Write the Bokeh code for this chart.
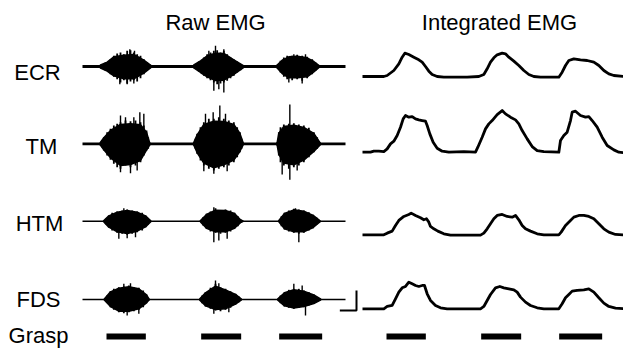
from bokeh.plotting import figure
from bokeh.models import Range1d
from bokeh.embed import file_html
from bokeh.resources import INLINE
from bokeh.core.properties import value

# ---------------- data ----------------
muscles = ["ECR", "TM", "HTM", "FDS"]
record_ms = 7890
grasp_on_ms = [720, 3560, 5900]
grasp_off_ms = [1900, 4760, 7190]
scalebar_ms = 500
scalebar_uv = 600

# Raw EMG: outer extremes of each burst (time ms, max uV, min uV)
ecr_raw_t = [[540, 690, 840, 940, 1040, 1140, 1240, 1340, 1440, 1540, 1640, 1740, 1840, 1940, 2040],
             [3340, 3490, 3640, 3740, 3840, 3940, 4040, 4140, 4240, 4340, 4440, 4540, 4640, 4740, 4840],
             [5840, 5940, 6040, 6140, 6290, 6440, 6590, 6740, 6890, 6990, 7090]]
ecr_raw_hi = [[50, 120, 220, 320, 390, 420, 370, 470, 490, 420, 370, 320, 220, 120, 50],
              [50, 150, 270, 370, 420, 470, 490, 420, 470, 370, 270, 220, 150, 70, 20],
              [50, 170, 270, 320, 320, 350, 320, 290, 220, 120, 40]]
ecr_raw_lo = [[-50, -130, -230, -310, -380, -480, -410, -510, -450, -410, -450, -350, -230, -110, -50],
              [-50, -150, -280, -350, -410, -480, -530, -510, -480, -430, -350, -280, -180, -110, -30],
              [-50, -180, -310, -380, -410, -380, -430, -350, -230, -130, -40]]
# dense core of each burst
ecr_core_t = [[540, 740, 940, 1240, 1540, 1840, 2040],
              [3340, 3540, 3740, 3990, 4240, 4540, 4840],
              [5840, 5990, 6190, 6440, 6740, 6940, 7090]]
ecr_core_hi = [[45, 130, 290, 340, 360, 190, 45],
               [45, 170, 320, 400, 390, 200, 20],
               [45, 190, 290, 310, 260, 150, 35]]
ecr_core_lo = [[-45, -140, -280, -370, -370, -200, -45],
               [-45, -180, -310, -420, -410, -240, -25],
               [-45, -210, -340, -340, -310, -160, -35]]
ecr_spike_t = [1120, 1340, 1420, 1540, 1560, 3790, 3940, 3990, 4090, 4240, 4240, 6190, 6340, 6590, 6690]
ecr_spike_uv = [-530, -530, 520, -510, 470, 470, -730, 620, -680, 520, -780, -480, 370, -510, 370]

tm_raw_t = [[540, 590, 640, 740, 840, 940, 1040, 1140, 1290, 1440, 1590, 1740, 1840, 1920, 1970, 2010],
            [3340, 3390, 3440, 3540, 3640, 3790, 3940, 4090, 4240, 4390, 4540, 4640, 4720, 4770, 4820],
            [5840, 5890, 5940, 6040, 6190, 6340, 6490, 6640, 6790, 6940, 7040, 7120]]
tm_raw_hi = [[50, 100, 200, 350, 450, 550, 600, 650, 700, 680, 700, 650, 550, 400, 200, 50],
             [50, 150, 300, 500, 650, 750, 750, 800, 750, 700, 650, 500, 350, 150, 30],
             [50, 350, 500, 580, 600, 620, 580, 550, 480, 350, 200, 50]]
tm_raw_lo = [[-50, -100, -200, -350, -480, -600, -700, -750, -650, -700, -650, -550, -350, -200, -150, -50],
             [-50, -150, -300, -500, -650, -750, -800, -750, -700, -650, -550, -400, -250, -150, -30],
             [-50, -350, -550, -650, -750, -700, -650, -550, -400, -250, -150, -50]]
tm_core_t = [[540, 640, 840, 1140, 1440, 1740, 1920, 2010],
             [3340, 3440, 3640, 3940, 4240, 4540, 4720, 4820],
             [5840, 5890, 6040, 6340, 6640, 6940, 7120]]
tm_core_hi = [[45, 180, 400, 580, 600, 570, 350, 45],
              [45, 270, 580, 680, 670, 580, 320, 30],
              [45, 320, 520, 560, 490, 310, 45]]
tm_core_lo = [[-45, -180, -420, -650, -620, -500, -190, -45],
              [-45, -270, -580, -720, -630, -490, -230, -30],
              [-45, -320, -580, -630, -490, -230, -45]]
tm_spike_t = [1140, 1290, 1540, 1720, 1840, 1140, 1440, 1640, 3690, 3920, 4120, 4290, 3640, 3940, 4340,
              6220, 5990, 6220, 6440]
tm_spike_uv = [850, 800, 800, 950, 900, -850, -880, -800, 900, 950, 1150, 900, -820, -900, -820,
               1180, -920, -1080, -800]

htm_raw_t = [[640, 720, 790, 890, 1040, 1190, 1340, 1490, 1640, 1790, 1890, 1960, 2040],
             [3540, 3620, 3720, 3840, 3990, 4140, 4290, 4440, 4560, 4660, 4740, 4810],
             [5890, 5970, 6060, 6190, 6340, 6490, 6640, 6790, 6920, 7020, 7120]]
htm_raw_hi = [[20, 90, 170, 250, 290, 320, 350, 320, 290, 250, 170, 90, 20],
              [20, 120, 220, 290, 390, 320, 350, 320, 250, 150, 50, 10],
              [20, 150, 250, 320, 370, 350, 320, 270, 190, 110, 20]]
htm_raw_lo = [[-20, -110, -190, -280, -350, -380, -410, -380, -330, -280, -180, -110, -30],
              [-20, -130, -230, -310, -350, -380, -350, -310, -230, -150, -50, -10],
              [-20, -150, -250, -310, -350, -380, -350, -280, -210, -110, -30]]
htm_core_t = [[640, 790, 1040, 1340, 1640, 1890, 2040],
              [3540, 3720, 3990, 4290, 4560, 4740, 4810],
              [5890, 6060, 6340, 6640, 6920, 7120]]
htm_core_hi = [[20, 160, 270, 320, 270, 160, 20],
               [20, 200, 330, 320, 230, 45, 10],
               [20, 230, 340, 300, 175, 20]]
htm_core_lo = [[-20, -180, -320, -370, -300, -170, -25],
               [-20, -210, -320, -320, -210, -45, -10],
               [-20, -230, -320, -320, -190, -25]]
htm_spike_t = [1090, 1340, 1590, 1240, 3940, 4090, 4340, 3940, 6490, 6390]
htm_spike_uv = [-530, -510, -480, 390, -630, -580, -530, 420, -630, 390]

fds_raw_t = [[660, 740, 840, 940, 1090, 1240, 1390, 1540, 1690, 1820, 1920, 1990],
             [3520, 3590, 3690, 3840, 3990, 4140, 4290, 4440, 4590, 4690, 4760],
             [5860, 5940, 6060, 6190, 6340, 6490, 6640, 6790, 6940, 7060, 7140]]
fds_raw_hi = [[20, 120, 250, 320, 370, 390, 420, 370, 350, 270, 150, 30],
              [20, 120, 220, 350, 470, 370, 320, 250, 170, 90, 20],
              [20, 120, 220, 290, 320, 320, 270, 220, 150, 70, 20]]
fds_raw_lo = [[-20, -100, -230, -310, -380, -410, -380, -350, -310, -230, -110, -30],
              [-20, -110, -210, -280, -330, -350, -310, -250, -150, -80, -20],
              [-20, -110, -210, -250, -280, -250, -230, -180, -130, -60, -20]]
fds_core_t = [[660, 840, 1090, 1390, 1690, 1920, 1990],
              [3520, 3690, 3990, 4290, 4590, 4760],
              [5860, 6060, 6340, 6640, 6940, 7140]]
fds_core_hi = [[20, 230, 340, 380, 320, 140, 25],
               [20, 200, 400, 290, 155, 20],
               [20, 200, 290, 250, 135, 20]]
fds_core_lo = [[-20, -210, -350, -350, -280, -100, -25],
               [-20, -190, -300, -280, -140, -20],
               [-20, -190, -255, -210, -120, -20]]
fds_spike_t = [1240, 1440, 1340, 1690, 3990, 4090, 3940, 4390, 6340, 6590, 6690]
fds_spike_uv = [470, 490, -480, -430, 570, 490, -430, -380, 470, 420, -480]

# Integrated EMG: time (ms), value (a.u.)
ecr_int_t = [0, 640, 740, 940, 1090, 1190, 1270, 1390, 1540, 1690, 1790, 1890, 1990, 2090, 2240, 2440,
             3140, 3490, 3640, 3740, 3840, 3940, 4040, 4190, 4290, 4390, 4540, 4690, 4840, 4990, 5140,
             5340, 5890, 5990, 6090, 6190, 6340, 6540, 6740, 6940, 7090, 7240, 7390, 7540, 7830, 7890]
ecr_int_v = [0, 0, 30, 180, 380, 580, 700, 660, 580, 500, 430, 300, 160, 60, 0, -20,
             -20, 0, 60, 230, 430, 560, 650, 700, 680, 580, 460, 330, 180, 60, 0,
             -20, -20, 130, 330, 480, 530, 500, 480, 430, 330, 180, 80, 30, 0, 0]
tm_int_t = [0, 240, 340, 490, 640, 740, 840, 940, 1040, 1140, 1220, 1290, 1390, 1490, 1590, 1690, 1790,
            1890, 1940, 2020, 2120, 2240, 2390, 2590, 3040, 3390, 3460, 3590, 3690, 3790, 3890, 4040,
            4190, 4290, 4440, 4590, 4690, 4790, 4940, 5090, 5240, 5440, 5890, 5940, 6040, 6140, 6240,
            6290, 6390, 6540, 6690, 6790, 6890, 7040, 7190, 7340, 7540, 7690, 7890]
tm_int_v = [0, 0, 30, 30, 20, 100, 250, 330, 500, 750, 1000, 1100, 1050, 1070, 1000, 970, 950,
            930, 800, 550, 300, 120, 30, 0, 20, 0, 150, 450, 700, 850, 950, 1130,
            1250, 1150, 1050, 970, 850, 650, 400, 170, 50, 20, 0, 350, 500, 600, 950,
            1200, 1230, 1100, 1050, 1070, 950, 750, 450, 200, 70, 0, -20]
htm_int_t = [0, 640, 740, 890, 990, 1090, 1240, 1390, 1460, 1590, 1740, 1840, 1920, 1990, 2040, 2140,
             2260, 2440, 2640, 3540, 3640, 3740, 3840, 3940, 4040, 4190, 4340, 4490, 4590, 4690, 4790,
             4890, 5040, 5240, 5440, 5890, 5960, 6090, 6240, 6340, 6490, 6640, 6790, 6940, 7090, 7240,
             7390, 7590, 7890]
htm_int_v = [0, 0, 50, 110, 280, 430, 550, 610, 650, 580, 510, 450, 480, 380, 250, 180,
             110, 30, -10, -10, 50, 180, 330, 480, 580, 610, 550, 530, 580, 450, 280,
             180, 110, 30, 0, 0, 80, 280, 430, 530, 580, 580, 550, 480, 330, 180,
             80, 10, -10]
fds_int_t = [0, 640, 740, 890, 990, 1090, 1190, 1290, 1390, 1490, 1590, 1690, 1790, 1860, 1940, 2040,
             2190, 2340, 2540, 3540, 3640, 3740, 3840, 3990, 4120, 4240, 4390, 4540, 4640, 4740, 4890,
             5040, 5240, 5440, 5890, 5990, 6090, 6190, 6290, 6440, 6640, 6790, 6940, 7090, 7240, 7390,
             7590, 7890]
fds_int_v = [0, 0, 70, 100, 300, 500, 630, 670, 800, 750, 700, 670, 700, 700, 450, 250,
             100, 30, 0, 0, 70, 250, 430, 630, 670, 630, 600, 570, 500, 350, 200,
             100, 30, 0, 0, 150, 330, 430, 530, 550, 570, 600, 500, 330, 170, 70,
             20, 0]

raw_t = {"ECR": ecr_raw_t, "TM": tm_raw_t, "HTM": htm_raw_t, "FDS": fds_raw_t}
raw_hi = {"ECR": ecr_raw_hi, "TM": tm_raw_hi, "HTM": htm_raw_hi, "FDS": fds_raw_hi}
raw_lo = {"ECR": ecr_raw_lo, "TM": tm_raw_lo, "HTM": htm_raw_lo, "FDS": fds_raw_lo}
core_t = {"ECR": ecr_core_t, "TM": tm_core_t, "HTM": htm_core_t, "FDS": fds_core_t}
core_hi = {"ECR": ecr_core_hi, "TM": tm_core_hi, "HTM": htm_core_hi, "FDS": fds_core_hi}
core_lo = {"ECR": ecr_core_lo, "TM": tm_core_lo, "HTM": htm_core_lo, "FDS": fds_core_lo}
spk_t = {"ECR": ecr_spike_t, "TM": tm_spike_t, "HTM": htm_spike_t, "FDS": fds_spike_t}
spk_v = {"ECR": ecr_spike_uv, "TM": tm_spike_uv, "HTM": htm_spike_uv, "FDS": fds_spike_uv}
int_t = {"ECR": ecr_int_t, "TM": tm_int_t, "HTM": htm_int_t, "FDS": fds_int_t}
int_v = {"ECR": ecr_int_v, "TM": tm_int_v, "HTM": htm_int_v, "FDS": fds_int_v}

# ---------------- layout (picture pixels) ----------------
W, H = 623, 348
PX0, PX1, PY0, PY1 = 0, 623, 0, 348
MS_PER_PX = 30.0
UV_PER_PX = 30.0
RAW_X0, INT_X0 = 82, 362
raw_base = [66, 143.3, 220.7, 299]
int_base = [76, 151.7, 234.3, 308.3]
base_lw = [3.2, 2.8, 1.5, 1.5]
label_x = [37, 41, 39, 38]
label_y = [71.7, 145.8, 223.3, 298.8]
FONT = value("Liberation Sans")
FS = "22px"
INK = "#000000"

p = figure(width=W, height=H, x_range=Range1d(PX0, PX1), y_range=Range1d(PY1, PY0),
           x_axis_type=None, y_axis_type=None, toolbar_location=None,
           output_backend="svg", min_border=0, outline_line_color=None,
           background_fill_color="white", border_fill_color="white")

p.extra_x_ranges = {
    "raw": Range1d((PX0 - RAW_X0) * MS_PER_PX, (PX1 - RAW_X0) * MS_PER_PX),
    "int": Range1d((PX0 - INT_X0) * MS_PER_PX, (PX1 - INT_X0) * MS_PER_PX),
}
yr = {}
for i, m in enumerate(muscles):
    yr["raw_" + m] = Range1d((raw_base[i] - PY1) * UV_PER_PX, (raw_base[i] - PY0) * UV_PER_PX)
    yr["int_" + m] = Range1d((int_base[i] - PY1) * UV_PER_PX, (int_base[i] - PY0) * UV_PER_PX)
p.extra_y_ranges = yr

for i, m in enumerate(muscles):
    rn = "raw_" + m
    p.line([0, record_ms], [0, 0], x_range_name="raw", y_range_name=rn,
           line_color=INK, line_width=base_lw[i])
    # dense core
    xs, ys = [], []
    for t, hi, lo in zip(core_t[m], core_hi[m], core_lo[m]):
        xs.append(list(t) + list(t[::-1]))
        ys.append(list(hi) + list(lo[::-1]))
    p.patches(xs, ys, x_range_name="raw", y_range_name=rn,
              fill_color=INK, line_color=INK, line_width=1.5)
    # spiky outer strokes
    tt, hh, ll = [], [], []
    for t, hi, lo in zip(raw_t[m], raw_hi[m], raw_lo[m]):
        tt += t
        hh += hi
        ll += lo
    p.segment(x0=tt, y0=ll, x1=tt, y1=hh, x_range_name="raw", y_range_name=rn,
              line_color=INK, line_width=1.8)
    n = len(spk_t[m])
    p.segment(x0=spk_t[m], y0=[0] * n, x1=spk_t[m], y1=spk_v[m],
              x_range_name="raw", y_range_name=rn, line_color=INK, line_width=1.4)
    p.line(int_t[m], int_v[m], x_range_name="int", y_range_name="int_" + m,
           line_color=INK, line_width=2.8, line_join="round")

# grasp bars
GRASP_Y = 336
for rname in ["raw", "int"]:
    p.segment(x0=grasp_on_ms, y0=[GRASP_Y] * 3, x1=grasp_off_ms, y1=[GRASP_Y] * 3,
              x_range_name=rname, line_color=INK, line_width=6, line_cap="butt")

# scale bar (in FDS raw units)
corner_t = (356 - RAW_X0) * MS_PER_PX
corner_v = (raw_base[3] - 310) * UV_PER_PX
p.line([corner_t - scalebar_ms, corner_t, corner_t],
       [corner_v, corner_v, corner_v + scalebar_uv],
       x_range_name="raw", y_range_name="raw_FDS", line_color=INK, line_width=2)

# texts
p.text(x=[215, 499], y=[22, 22], text=["Raw EMG", "Integrated EMG"],
       text_align="center", text_baseline="middle", text_font=FONT,
       text_font_size=FS, text_color=INK)
p.text(x=label_x + [38], y=label_y + [335], text=muscles + ["Grasp"],
       text_align="center", text_baseline="middle", text_font=FONT,
       text_font_size=FS, text_color=INK)

open("out.html", "w").write(file_html(p, INLINE))
